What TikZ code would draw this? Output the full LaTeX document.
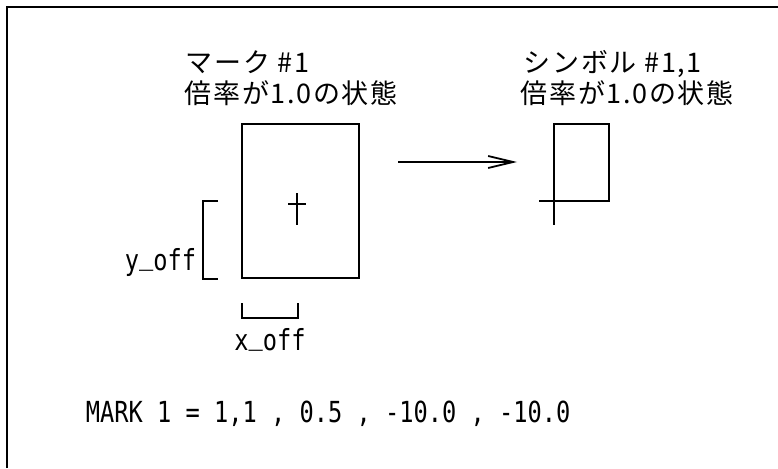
\documentclass[tikz,border=0pt]{standalone}
\usepackage{fontspec}
\setmainfont{Noto Sans CJK JP}
\newfontfamily\cadmono[FakeStretch=0.816]{DejaVu Sans Mono}
\newcommand\lowbar{\raisebox{6pt}{\_}}
\usetikzlibrary{arrows.meta,positioning}

\begin{document}
\begin{tikzpicture}[x=1pt,y=-1pt,line width=1.8pt,
  caption/.style={inner sep=0pt,anchor=base west,
    font=\addfontfeature{LetterSpace=6}\fontsize{27}{29}\selectfont},
  code/.style={inner sep=0pt,font=\cadmono\fontsize{29}{32}\selectfont}]
  \useasboundingbox (0,0) rectangle (778,468);
  % frame, cut at right and bottom
  \draw (7,468) -- (7,7) -- (778,7);
  % mark #1 at scale 1.0
  \node[caption] (marktitle) at (185,73) {マーク \#1};
  \node[caption] (markscale) at (184,103) {倍率が1.0の状態};
  \draw (242,124) rectangle (359,278);
  \draw (297,193) -- (297,225) (288,204) -- (306,204);
  % offsets
  \draw (218,201) -- (203,201) -- (203,279) -- (218,279);
  \node[code,anchor=base east] (yoff) at (197,270) {y\lowbar off};
  \draw (242,303) -- (242,318) -- (298,318) -- (298,303);
  \node[code,anchor=base] (xoff) at (270,350) {x\lowbar off};
  % arrow
  \coordinate (from) at (398,162);
  \coordinate (to) at (517,162);
  \draw[-{Straight Barb[length=25pt,width=12pt]}] (from) -- (to);
  % symbol #1,1 at scale 1.0
  \node[caption] (symtitle) at (523,73) {シンボル \#1,1};
  \node[caption] (symscale) at (520,103) {倍率が1.0の状態};
  \draw (554,124) rectangle (609,201);
  \draw (539,201) -- (554,201) -- (554,225);
  % definition line
  \node[code,anchor=base west] (markdef) at (85,422) {MARK 1 = 1,1 , 0.5 , -10.0 , -10.0};
\end{tikzpicture}
\end{document}
